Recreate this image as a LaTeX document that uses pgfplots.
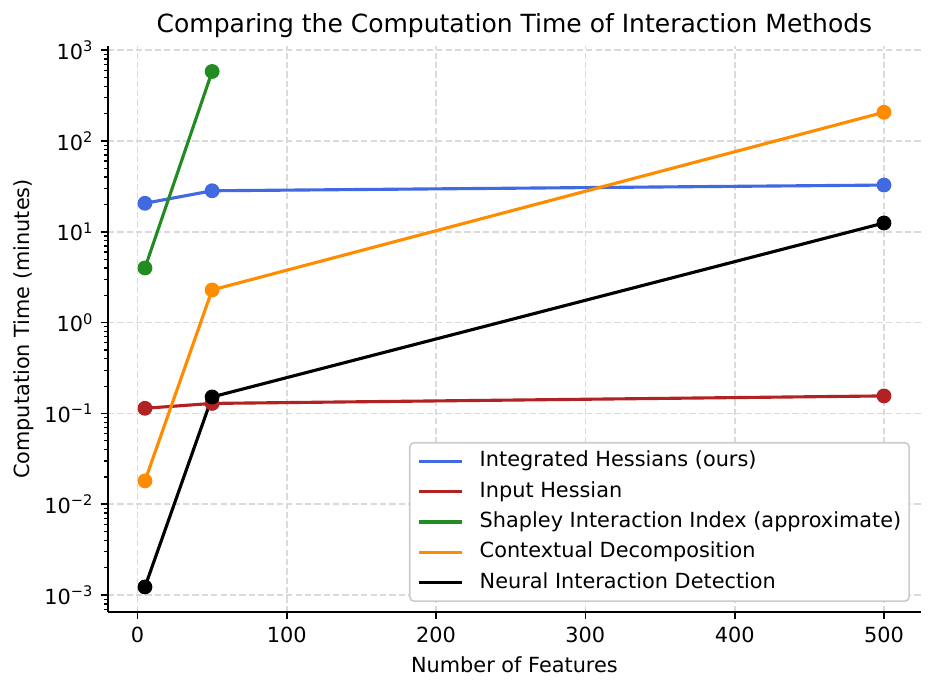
\documentclass[border=0pt]{standalone}
\usepackage{fontspec}
\setmainfont{DejaVu Sans}
\usepackage{pgfplots}
\pgfplotsset{compat=1.18}

\definecolor{royalblue}{HTML}{4169E1}
\definecolor{firebrick}{HTML}{B22222}
\definecolor{forestgreen}{HTML}{228B22}
\definecolor{darkorange}{HTML}{FF8C00}
\definecolor{gridgray}{HTML}{DADADA}
\definecolor{legendedge}{HTML}{CCCCCC}

\begin{document}
\begin{tikzpicture}
\begin{axis}[
  scale only axis,
  width=390.2pt, height=271.7pt,
  xmin=-19.75, xmax=524.75,
  ymode=log, ymin=6.52e-4, ymax=1112,
  axis x line*=bottom, axis y line*=left,
  axis line style={line width=0.8pt},
  tick align=outside,
  major tick length=3.5pt, minor tick length=2pt,
  every tick/.style={black, line width=0.8pt},
  minor tick style={black, line width=0.6pt},
  xtick={0,100,200,300,400,500},
  ytick={1e-3,1e-2,1e-1,1,10,100,1000},
  yticklabels={10\textsuperscript{−3},10\textsuperscript{−2},10\textsuperscript{−1},10\textsuperscript{0},10\textsuperscript{1},10\textsuperscript{2},10\textsuperscript{3}},
  minor ytick={7e-4,8e-4,9e-4,
    2e-3,3e-3,4e-3,5e-3,6e-3,7e-3,8e-3,9e-3,
    2e-2,3e-2,4e-2,5e-2,6e-2,7e-2,8e-2,9e-2,
    2e-1,3e-1,4e-1,5e-1,6e-1,7e-1,8e-1,9e-1,
    2,3,4,5,6,7,8,9,
    20,30,40,50,60,70,80,90,
    200,300,400,500,600,700,800,900},
  /pgf/number format/assume math mode=true,
  ticklabel style={font=\fontsize{10}{12}\selectfont},
  grid=major,
  major grid style={gridgray, line width=0.8pt, dash pattern=on 3pt off 1.5pt},
  title={Comparing the Computation Time of Interaction Methods},
  title style={font=\fontsize{12}{14}\selectfont, yshift=-5.8pt},
  xlabel={Number of Features},
  ylabel={Computation Time (minutes)},
  label style={font=\fontsize{10}{12}\selectfont},
  ylabel style={yshift=-2pt},
  legend style={at={(0.9865,0.0177)}, anchor=south east,
    draw=legendedge, line width=0.8pt, rounded corners=2pt,
    font=\fontsize{10}{12}\selectfont,
    inner xsep=3.8pt, inner ysep=1.5pt, column sep=7.7pt, row sep=0pt,
    nodes={inner xsep=0pt, inner ysep=2.45pt, text height=7.5pt, text depth=2.2pt}},
  legend cell align=left,
  legend image code/.code={\draw[#1,mark=none] (0pt,0pt) -- (20.6pt,0pt);},
  every axis plot/.append style={line width=1.5pt, mark=*, mark size=2.8pt},
]
\addplot[royalblue, mark options={fill=royalblue, draw=royalblue}] coordinates {(5,20.6)(50,28.3)(500,32.7)};
\addlegendentry{Integrated Hessians (ours)}
\addplot[firebrick, mark options={fill=firebrick, draw=firebrick}] coordinates {(5,0.114)(50,0.129)(500,0.156)};
\addlegendentry{Input Hessian}
\addplot[forestgreen, mark options={fill=forestgreen, draw=forestgreen}] coordinates {(5,4.0)(50,582)};
\addlegendentry{Shapley Interaction Index (approximate)}
\addplot[darkorange, mark options={fill=darkorange, draw=darkorange}] coordinates {(5,0.0181)(50,2.29)(500,207)};
\addlegendentry{Contextual Decomposition}
\addplot[black, mark options={fill=black, draw=black}] coordinates {(5,0.00123)(50,0.152)(500,12.5)};
\addlegendentry{Neural Interaction Detection}
\end{axis}
\pgfresetboundingbox
\path[use as bounding box] (-51.84pt,-37.44pt) rectangle (396.96pt,293.76pt);
\end{tikzpicture}
\end{document}
